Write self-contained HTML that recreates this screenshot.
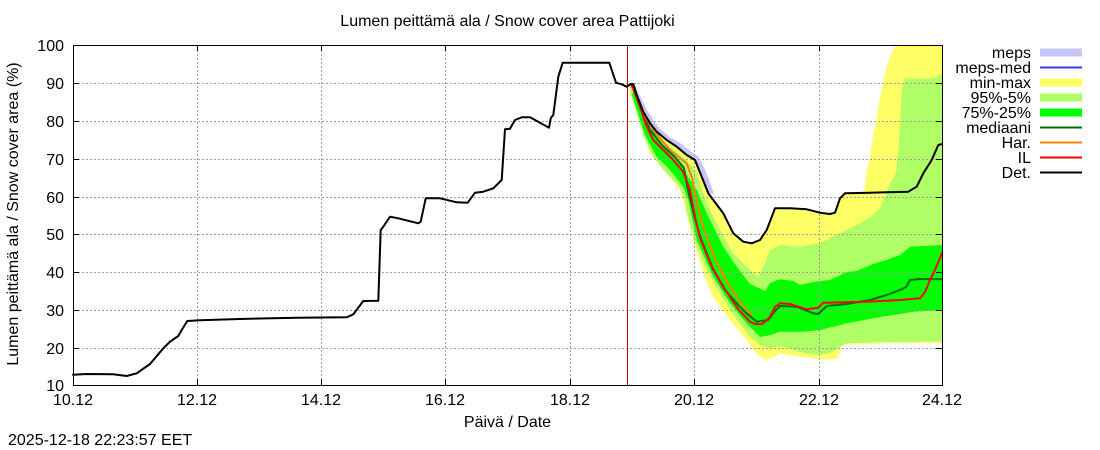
<!DOCTYPE html>
<html>
<head>
<meta charset="utf-8">
<style>
html,body{margin:0;padding:0;background:#fff;}
svg{display:block;}
text{font-family:"Liberation Sans",Arial,sans-serif;font-size:16px;fill:#000;}
</style>
</head>
<body>
<svg width="1100" height="450" viewBox="0 0 1100 450" xmlns="http://www.w3.org/2000/svg">
<rect x="0" y="0" width="1100" height="450" fill="#fff"/>

<!-- meps band -->
<polygon fill="#c6c6f6" points="628,83 634,83 640,96 647,110 654,121 660,129 670,137 680,143 690,151 699,157 706,172 712,188 714,194 708.3,193.3 701.7,176.7 695,160 686.7,155 676.7,146.7 666.7,140 656.7,131.7 650,123.3 643.3,111.7 636.7,95 633.3,84.3 630.7,84"/>

<!-- min-max yellow -->
<polygon fill="#ffff66" points="630.7,84 633.3,84.3 636.7,95 643.3,111.7 650,123.3 656.7,131.7 666.7,140 676.7,146.7 686.7,155 695,160 701.7,176.7 708.3,193.3 713.3,200 723.3,213.3 733.3,233.3 743.3,241.7 751.7,243.3 760,240 766.7,230 775,208.3 790,208.3 806.7,209.3 820,212.7 830,214 835,212.7 840,198.3 845,193.3 863,192 865,186 867,170 870,158 873,135 875,127 878,110 881.7,90 886.7,67 891.7,53 895,47 903,45 942,45 942,343.5 926.7,343 890,343 866.7,344 843.3,344.5 841,347 840,352 836.7,359.3 818.3,359.3 806.7,357.3 793.3,356 780,353.3 773.3,357.3 765,360 756.7,353.3 746.7,340 730,320 713,297 705,277 700,262 693.3,240 683.3,200 680,190 666.7,173.3 650,153.3 640,125 633,100 629,88"/>

<!-- 95%-5% light green -->
<polygon fill="#b0ff66" points="630,87 640,108 650,128 656.7,136.7 670,146.7 686.7,160 696.7,173.3 703.3,193.3 710,210 720,230 733,253 750,270 758,277 765,263 770,250 780,245 800,246.7 820,243.3 840,233.3 860,223.3 873,215 880,208 890,184 896,173 899,140 902,90 905,78 920,79 935,78 942,73 942,341.5 900,342 880,342 860,343 846.7,343.3 840,346.7 830,353.3 818,355 800,352 780,346 770,348.3 760,345 750,336.7 736.7,320 720,293.3 706.7,270 696.7,246.7 686.7,213.3 685,200 680,186.7 663.3,170 653.3,156.7 645,140 637,115 630,92"/>

<!-- 75%-25% green -->
<polygon fill="#00ff00" points="633,92 645,115 655,133 663.3,146.7 680,163.3 690,180 696.7,190 706.7,213.3 723.3,246.7 736.7,266.7 750,284 765,291 770,283 780,279.3 793.3,281 800,285 813.3,282 830,280 846.7,272 856.7,271 873.3,264 886.7,260 900,255 910,246.7 925,246 942,245 942,310 913.3,311.7 880,317 846.7,323.3 820,330 803.3,331.7 780,331.7 770,335 760,337 746.7,323.3 730,303.3 713.3,276.7 696.7,240 688.3,200 683.3,186.7 670,170 656.7,156.7 645,135 637,110 632,95"/>

<!-- grid -->
<g stroke="#a0a0a0" stroke-width="1" stroke-dasharray="2,2" fill="none">
<line x1="74" y1="83.5" x2="942" y2="83.5"/>
<line x1="74" y1="121.5" x2="942" y2="121.5"/>
<line x1="74" y1="159.5" x2="942" y2="159.5"/>
<line x1="74" y1="197.5" x2="942" y2="197.5"/>
<line x1="74" y1="234.5" x2="942" y2="234.5"/>
<line x1="74" y1="272.5" x2="942" y2="272.5"/>
<line x1="74" y1="310.5" x2="942" y2="310.5"/>
<line x1="74" y1="348.5" x2="942" y2="348.5"/>
<line x1="197.5" y1="46" x2="197.5" y2="385"/>
<line x1="321.5" y1="46" x2="321.5" y2="385"/>
<line x1="445.5" y1="46" x2="445.5" y2="385"/>
<line x1="570.5" y1="46" x2="570.5" y2="385"/>
<line x1="694.5" y1="46" x2="694.5" y2="385"/>
<line x1="819.5" y1="46" x2="819.5" y2="385"/>
</g>

<!-- ticks -->
<g stroke="#000" stroke-width="1">
<line x1="73" y1="83.5" x2="79" y2="83.5"/><line x1="936" y1="83.5" x2="942" y2="83.5"/>
<line x1="73" y1="121.5" x2="79" y2="121.5"/><line x1="936" y1="121.5" x2="942" y2="121.5"/>
<line x1="73" y1="159.5" x2="79" y2="159.5"/><line x1="936" y1="159.5" x2="942" y2="159.5"/>
<line x1="73" y1="197.5" x2="79" y2="197.5"/><line x1="936" y1="197.5" x2="942" y2="197.5"/>
<line x1="73" y1="234.5" x2="79" y2="234.5"/><line x1="936" y1="234.5" x2="942" y2="234.5"/>
<line x1="73" y1="272.5" x2="79" y2="272.5"/><line x1="936" y1="272.5" x2="942" y2="272.5"/>
<line x1="73" y1="310.5" x2="79" y2="310.5"/><line x1="936" y1="310.5" x2="942" y2="310.5"/>
<line x1="73" y1="348.5" x2="79" y2="348.5"/><line x1="936" y1="348.5" x2="942" y2="348.5"/>
<line x1="197.5" y1="385" x2="197.5" y2="379"/><line x1="197.5" y1="45" x2="197.5" y2="51"/>
<line x1="321.5" y1="385" x2="321.5" y2="379"/><line x1="321.5" y1="45" x2="321.5" y2="51"/>
<line x1="445.5" y1="385" x2="445.5" y2="379"/><line x1="445.5" y1="45" x2="445.5" y2="51"/>
<line x1="570.5" y1="385" x2="570.5" y2="379"/><line x1="570.5" y1="45" x2="570.5" y2="51"/>
<line x1="694.5" y1="385" x2="694.5" y2="379"/><line x1="694.5" y1="45" x2="694.5" y2="51"/>
<line x1="819.5" y1="385" x2="819.5" y2="379"/><line x1="819.5" y1="45" x2="819.5" y2="51"/>
</g>

<!-- forecast start line -->
<line x1="627.5" y1="45" x2="627.5" y2="385" stroke="#cc0000" stroke-width="1"/>

<!-- series lines -->
<g fill="none" stroke-width="2" stroke-linejoin="round" stroke-linecap="round">
<polyline stroke="#006f00" points="630.7,84 636,96 642,112 650,130 663,146 675,157 684,168 688,190 694,215 700,236 713.3,270 725,290 736.7,303.3 745,312 756.7,321.7 768.3,320 775,311 780,306 796.7,306.7 813.3,313.3 818.3,314 826.7,306 846.7,304 870,300 886.7,295 900,290 906,287 910,280 920,279 942,279.3"/>
<polyline stroke="#ff8000" points="630.7,84 636,95 643,113 653.3,130 670,150 686.7,163.3 692,178 696,198 704,230 716.7,263.3 730,286.7 743.3,306.7 751.7,315"/>
<polyline stroke="#ff0000" points="630.7,84 633.3,88 635,93.3 640,106.7 646.7,126.7 650,133.3 653.3,140 663.3,150 673.3,160 683.3,172 690,190 695,216.7 700,238 711,265 723.3,286.7 738,309 750,321.7 755,324 761.7,324.3 766,321 770,316.7 775,307 780,303.3 790,304 806.7,309.3 818.3,307.7 823.3,302.7 866.7,301.7 900,300 920,298.3 925,292 930,280 935,270 942,253"/>
<polyline stroke="#000" points="73,374.7 86.7,374 113,374.3 126.7,376 136.7,373.3 150,364 163.3,348.3 170,341.7 178.3,336 181.7,330 187.3,321 200,320.3 240,319 296.7,317.7 346.7,317.3 353.3,314.3 363.3,301 378.3,300.7 380.7,230 383.3,226.7 390,216.7 398.3,218.3 418.3,223.3 420.7,221.7 425.7,198.3 440,198.3 456.7,202.3 467.7,202.7 475,192.7 483.3,191.7 493.3,188.3 501.7,180 505,129.3 510,128.7 515,120 521.7,117.3 530,117.3 540,122.7 549,127.7 550.7,118.3 553.3,115 558.3,76.7 562.7,62.7 609.3,62.7 616,82.7 621.7,84.3 626.7,86.7 630.7,84 633.3,84.3 636.7,95 643.3,111.7 650,123.3 656.7,131.7 666.7,140 676.7,146.7 686.7,155 695,160 701.7,176.7 708.3,193.3 713.3,200 723.3,213.3 733.3,233.3 743.3,241.7 751.7,243.3 760,240 766.7,230 775,208.3 790,208.3 806.7,209.3 820,212.7 830,214 835,212.7 840,198.3 845,193.3 870,192.7 908.3,191.7 916.7,186.7 923.3,173.3 931.7,160 938.3,145 942,144"/>
</g>

<!-- frame -->
<rect x="73.5" y="45.5" width="869" height="340" fill="none" stroke="#000" stroke-width="1"/>

<!-- title -->
<text x="507.5" y="26" text-anchor="middle">Lumen peittämä ala / Snow cover area Pattijoki</text>

<!-- y tick labels -->
<g text-anchor="end">
<text x="64" y="51">100</text>
<text x="64" y="89">90</text>
<text x="64" y="127">80</text>
<text x="64" y="165">70</text>
<text x="64" y="203">60</text>
<text x="64" y="240">50</text>
<text x="64" y="278">40</text>
<text x="64" y="316">30</text>
<text x="64" y="354">20</text>
<text x="64" y="391">10</text>
</g>

<!-- x tick labels -->
<g text-anchor="middle">
<text x="73" y="405">10.12</text>
<text x="197" y="405">12.12</text>
<text x="321" y="405">14.12</text>
<text x="445" y="405">16.12</text>
<text x="570" y="405">18.12</text>
<text x="694" y="405">20.12</text>
<text x="819" y="405">22.12</text>
<text x="942" y="405">24.12</text>
</g>

<!-- axis labels -->
<text x="507.5" y="427" text-anchor="middle">Päivä / Date</text>
<text transform="translate(18,214) rotate(-90)" text-anchor="middle">Lumen peittämä ala / Snow cover area (%)</text>

<!-- timestamp -->
<text x="8" y="445">2025-12-18 22:23:57 EET</text>

<!-- legend -->
<g text-anchor="end">
<text x="1031" y="58">meps</text>
<text x="1031" y="73">meps-med</text>
<text x="1031" y="88">min-max</text>
<text x="1031" y="103">95%-5%</text>
<text x="1031" y="118">75%-25%</text>
<text x="1031" y="133">mediaani</text>
<text x="1031" y="148">Har.</text>
<text x="1031" y="163">IL</text>
<text x="1031" y="178">Det.</text>
</g>
<rect x="1040" y="48.5" width="42" height="8" fill="#c6c6f6"/>
<line x1="1040" y1="67.5" x2="1082" y2="67.5" stroke="#3c3cdc" stroke-width="2"/>
<rect x="1040" y="78.5" width="42" height="8" fill="#ffff66"/>
<rect x="1040" y="93.5" width="42" height="8" fill="#b0ff66"/>
<rect x="1040" y="108.5" width="42" height="8" fill="#00ff00"/>
<line x1="1040" y1="127.5" x2="1082" y2="127.5" stroke="#006f00" stroke-width="2"/>
<line x1="1040" y1="142.5" x2="1082" y2="142.5" stroke="#ff8000" stroke-width="2"/>
<line x1="1040" y1="157.5" x2="1082" y2="157.5" stroke="#ff0000" stroke-width="2"/>
<line x1="1040" y1="172.5" x2="1082" y2="172.5" stroke="#000" stroke-width="2"/>
</svg>
</body>
</html>
